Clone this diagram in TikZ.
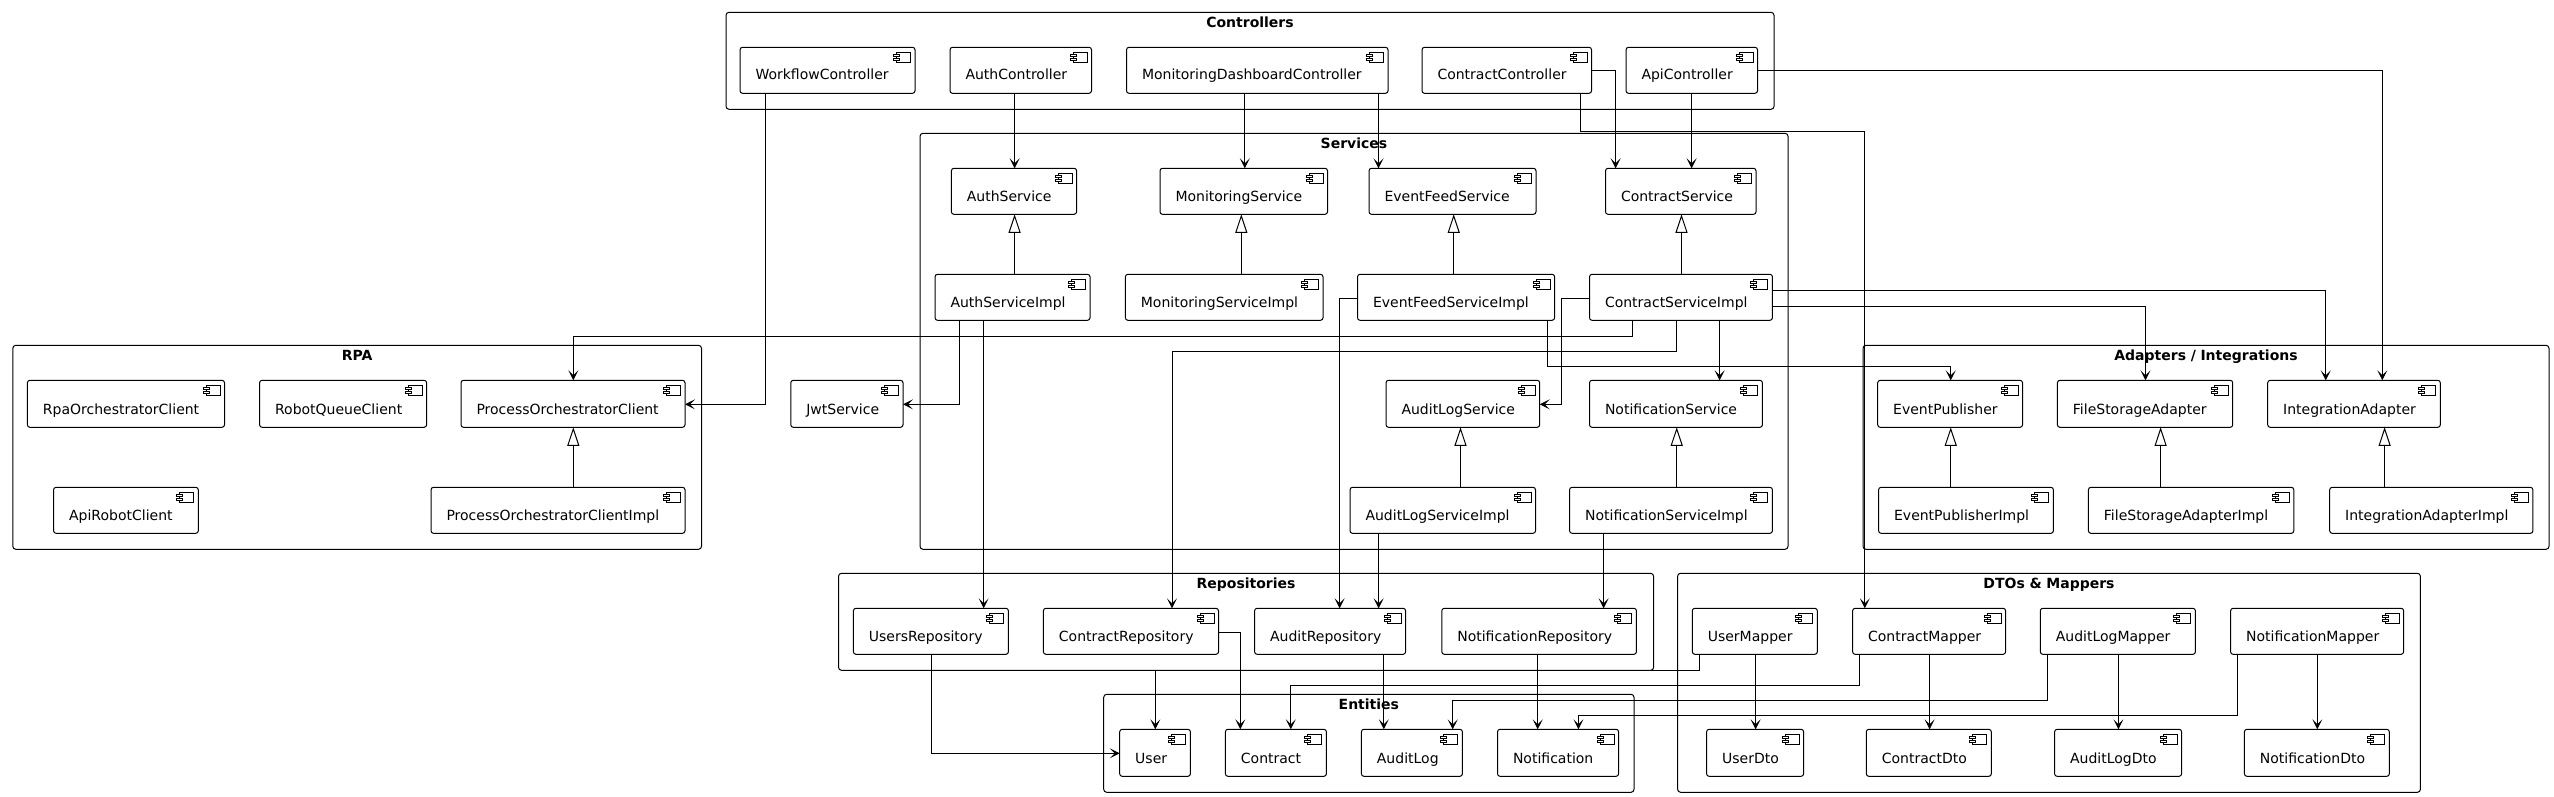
\documentclass[tikz,border=0pt]{standalone}
\usepackage{fontspec}
\setmainfont{DejaVu Sans}
\usetikzlibrary{arrows.meta}
\tikzset{
  x=1pt,y=-1pt,
  every node/.style={outer sep=0pt},
  compbox/.style={draw=black,line width=1pt,rounded corners=2.5pt,fill=white,inner xsep=15.5pt,inner ysep=0pt,align=left,font=\fontsize{14}{16}\selectfont,anchor=north west,text depth=13.3pt},
  clusterbox/.style={draw=black,line width=1pt,rounded corners=3pt,inner xsep=0pt,inner ysep=0pt,align=center,font=\fontsize{14}{16}\selectfont\bfseries,anchor=north west,text height=15pt},
  iconline/.style={draw=black,line width=0.8pt,fill=white},
  dep/.style={draw=black,line width=1pt,-{Stealth[length=10pt,width=10pt,inset=5pt]}},
  impl/.style={draw=black,line width=1pt,-{Triangle[length=18.5pt,width=12pt,open,fill=white]}},
}
\newcommand{\mk}[6]{% name, x1, x2, y1, y2, text
  \pgfmathsetmacro{\hh}{#5-#4-13.3}%
  \pgfmathsetmacro{\ww}{#3-#2-31}%
  \node[compbox,text width=\ww pt,text height=\hh pt] (#1) at (#2,#4) {\mbox{#6}};
  \draw[iconline] ([shift={(-18.6,5)}]#1.north east) rectangle +(14,10);
  \draw[iconline] ([shift={(-21.6,7)}]#1.north east) rectangle +(6,2);
  \draw[iconline] ([shift={(-21.6,11)}]#1.north east) rectangle +(6,2);
}
\newcommand{\clu}[6]{% name, x1, x2, y1, y2, title
  \pgfmathsetmacro{\hh}{#5-#4-15}%
  \pgfmathsetmacro{\ww}{#3-#2}%
  \node[clusterbox,text width=\ww pt,text depth=\hh pt] (#1) at (#2,#4) {#6};
}
\begin{document}
\begin{tikzpicture}
\useasboundingbox (0,0) rectangle (2554,797);
\fill[white] (0,0) rectangle (2554,797);
% clusters
\clu{cC}{726}{1774}{12.3}{109.3}{Controllers}
\clu{cS}{920}{1788}{133.3}{549.3}{Services}
\clu{cR}{12.8}{701.5}{345.3}{549.3}{RPA}
\clu{cA}{1863}{2549}{345.3}{549.3}{Adapters / Integrations}
\clu{cP}{838.5}{1653.6}{573.3}{670.3}{Repositories}
\clu{cD}{1677.6}{2420.4}{573.3}{792.3}{DTOs \& Mappers}
\clu{cE}{1103.7}{1634}{694.3}{792.3}{Entities}
% controllers
\mk{WC}{740}{915}{47.3}{93.3}{WorkflowController}
\mk{AC}{950}{1091.5}{47.3}{93.3}{AuthController}
\mk{MC}{1126.5}{1388}{47.3}{93.3}{MonitoringDashboardController}
\mk{CC}{1422}{1591.5}{47.3}{93.3}{ContractController}
\mk{PC}{1626}{1757.5}{47.3}{93.3}{ApiController}
% services
\mk{AS}{951.4}{1076.6}{168.3}{214.3}{AuthService}
\mk{MS}{1160}{1327.5}{168.3}{214.3}{MonitoringService}
\mk{ES}{1369}{1536}{168.3}{214.3}{EventFeedService}
\mk{CS}{1605.5}{1756}{168.3}{214.3}{ContractService}
\mk{ASI}{935}{1090}{274.3}{320.3}{AuthServiceImpl}
\mk{MSI}{1125.4}{1323}{274.3}{320.3}{MonitoringServiceImpl}
\mk{ESI}{1357.5}{1554.6}{274.3}{320.3}{EventFeedServiceImpl}
\mk{CSI}{1589.5}{1772.4}{274.3}{320.3}{ContractServiceImpl}
\mk{LS}{1386}{1539.7}{380.3}{427.3}{AuditLogService}
\mk{NS}{1589.5}{1762.4}{380.3}{427.3}{NotificationService}
\mk{LSI}{1350}{1535.5}{487.3}{533.3}{AuditLogServiceImpl}
\mk{NSI}{1569.6}{1772.4}{487.3}{533.3}{NotificationServiceImpl}
\mk{JS}{790.8}{903}{380.3}{427.3}{JwtService}
% rpa
\mk{RO}{27.4}{224.5}{380.3}{427.3}{RpaOrchestratorClient}
\mk{RQ}{259.6}{426.6}{380.3}{427.3}{RobotQueueClient}
\mk{PO}{461}{685}{380.3}{427.3}{ProcessOrchestratorClient}
\mk{AR}{53.6}{198.3}{487.3}{533.3}{ApiRobotClient}
\mk{POI}{431}{685}{487.3}{533.3}{ProcessOrchestratorClientImpl}
% adapters
\mk{EP}{1877.7}{2022.5}{380.3}{427.3}{EventPublisher}
\mk{FS}{2057.4}{2232.7}{380.3}{427.3}{FileStorageAdapter}
\mk{IA}{2267.7}{2440.3}{380.3}{427.3}{IntegrationAdapter}
\mk{EPI}{1878.6}{2053.4}{487.3}{533.3}{EventPublisherImpl}
\mk{FSI}{2088.4}{2293.8}{487.3}{533.3}{FileStorageAdapterImpl}
\mk{IAI}{2329.7}{2532.9}{487.3}{533.3}{IntegrationAdapterImpl}
% repositories
\mk{UR}{853.4}{1008.4}{608.3}{654.3}{UsersRepository}
\mk{CR}{1043.4}{1218.5}{608.3}{654.3}{ContractRepository}
\mk{LR}{1254.6}{1405.6}{608.3}{654.3}{AuditRepository}
\mk{NR}{1441.8}{1636.4}{608.3}{654.3}{NotificationRepository}
% entities
\mk{EU}{1119.7}{1190.4}{729.3}{776.3}{User}
\mk{EC}{1225.4}{1326.4}{729.3}{776.3}{Contract}
\mk{EL}{1361.4}{1462.4}{729.3}{776.3}{AuditLog}
\mk{EN}{1497.5}{1618.6}{729.3}{776.3}{Notification}
% mappers
\mk{UM}{1692.3}{1817.3}{608.3}{654.3}{UserMapper}
\mk{CM}{1852.6}{2005.6}{608.3}{654.3}{ContractMapper}
\mk{LM}{2040.3}{2195.4}{608.3}{654.3}{AuditLogMapper}
\mk{NM}{2230.6}{2403.6}{608.3}{654.3}{NotificationMapper}
\mk{UD}{1706.6}{1803.6}{729.3}{776.3}{UserDto}
\mk{CD}{1866.3}{1991.3}{729.3}{776.3}{ContractDto}
\mk{LD}{2054.6}{2181.6}{729.3}{776.3}{AuditLogDto}
\mk{ND}{2244.4}{2389.3}{729.3}{776.3}{NotificationDto}
% implementation arrows
\draw[impl] (ASI.north -| 1014.6,0) -- (AS.south -| 1014.6,0);
\draw[impl] (MSI.north -| 1241.3,0) -- (MS.south -| 1241.3,0);
\draw[impl] (ESI.north -| 1453.7,0) -- (ES.south -| 1453.7,0);
\draw[impl] (CSI.north -| 1681.5,0) -- (CS.south -| 1681.5,0);
\draw[impl] (LSI.north -| 1460.5,0) -- (LS.south -| 1460.5,0);
\draw[impl] (NSI.north -| 1676.7,0) -- (NS.south -| 1676.7,0);
\draw[impl] (POI.north -| 573.3,0) -- (PO.south -| 573.3,0);
\draw[impl] (EPI.north -| 1950.7,0) -- (EP.south -| 1950.7,0);
\draw[impl] (FSI.north -| 2160.6,0) -- (FS.south -| 2160.6,0);
\draw[impl] (IAI.north -| 2384.6,0) -- (IA.south -| 2384.6,0);
% straight dependencies
\draw[dep] (AC.south -| 1014.6,0) -- (AS.north -| 1014.6,0);
\draw[dep] (MC.south -| 1244.8,0) -- (MS.north -| 1244.8,0);
\draw[dep] (MC.south -| 1378.5,0) -- (ES.north -| 1378.5,0);
\draw[dep] (PC.south -| 1691.6,0) -- (CS.north -| 1691.6,0);
\draw[dep] (CSI.south -| 1719.6,0) -- (NS.north -| 1719.6,0);
\draw[dep] (ASI.south -| 983.7,0) -- (UR.north -| 983.7,0);
\draw[dep] (LSI.south -| 1378.6,0) -- (LR.north -| 1378.6,0);
\draw[dep] (NSI.south -| 1603.6,0) -- (NR.north -| 1603.6,0);
\draw[dep] (LR.south -| 1383.8,0) -- (EL.north -| 1383.8,0);
\draw[dep] (NR.south -| 1537.7,0) -- (EN.north -| 1537.7,0);
\draw[dep] (UM.south -| 1755.6,0) -- (UD.north -| 1755.6,0);
\draw[dep] (CM.south -| 1929.6,0) -- (CD.north -| 1929.6,0);
\draw[dep] (LM.south -| 2118.4,0) -- (LD.north -| 2118.4,0);
\draw[dep] (NM.south -| 2317.3,0) -- (ND.north -| 2317.3,0);
% routed dependencies
\draw[dep] (WC.south -| 765.4,0) |- (PO.east |- 0,404.3);
\draw[dep] (ASI.south -| 959.8,0) |- (JS.east |- 0,404.3);
\draw[dep] (CC.east |- 0,71) -| (CS.north -| 1615.6,0);
\draw[dep] (CC.south -| 1580,0) |- (1864.8,131.3) -- (CM.north -| 1864.8,0);
\draw[dep] (PC.east |- 0,71) -| (IA.north -| 2382.3,0);
\draw[dep] (CSI.east |- 0,306.3) -| (FS.north -| 2145.5,0);
\draw[dep] (CSI.east |- 0,290.3) -| (IA.north -| 2325.7,0);
\draw[dep] (CSI.west |- 0,298.3) -| (1561.5,404.3) -- (LS.east |- 0,404.3);
\draw[dep] (CSI.south -| 1632.3,0) |- (573.3,336.3) -- (PO.north -| 573.3,0);
\draw[dep] (CSI.south -| 1676.7,0) |- (1172,351.3) -- (CR.north -| 1172,0);
\draw[dep] (ESI.south -| 1547.7,0) |- (1950.7,366.7) -- (EP.north -| 1950.7,0);
\draw[dep] (ESI.west |- 0,298.3) -| (LR.north -| 1339.6,0);
\draw[dep] (UR.south -| 931.5,0) |- (EU.west |- 0,753.3);
\draw[dep] (UM.south -| 1699.5,0) |- (1155.3,670.3) -- (EU.north -| 1155.3,0);
\draw[dep] (CR.east |- 0,632.3) -| (EC.north -| 1240.3,0);
\draw[dep] (CM.south -| 1859.7,0) |- (1290.8,685.3) -- (EC.north -| 1290.8,0);
\draw[dep] (LM.south -| 2047.4,0) |- (1452.7,700.3) -- (EL.north -| 1452.7,0);
\draw[dep] (NM.south -| 2237.2,0) |- (1578.4,715.3) -- (EN.north -| 1578.4,0);
\end{tikzpicture}
\end{document}
